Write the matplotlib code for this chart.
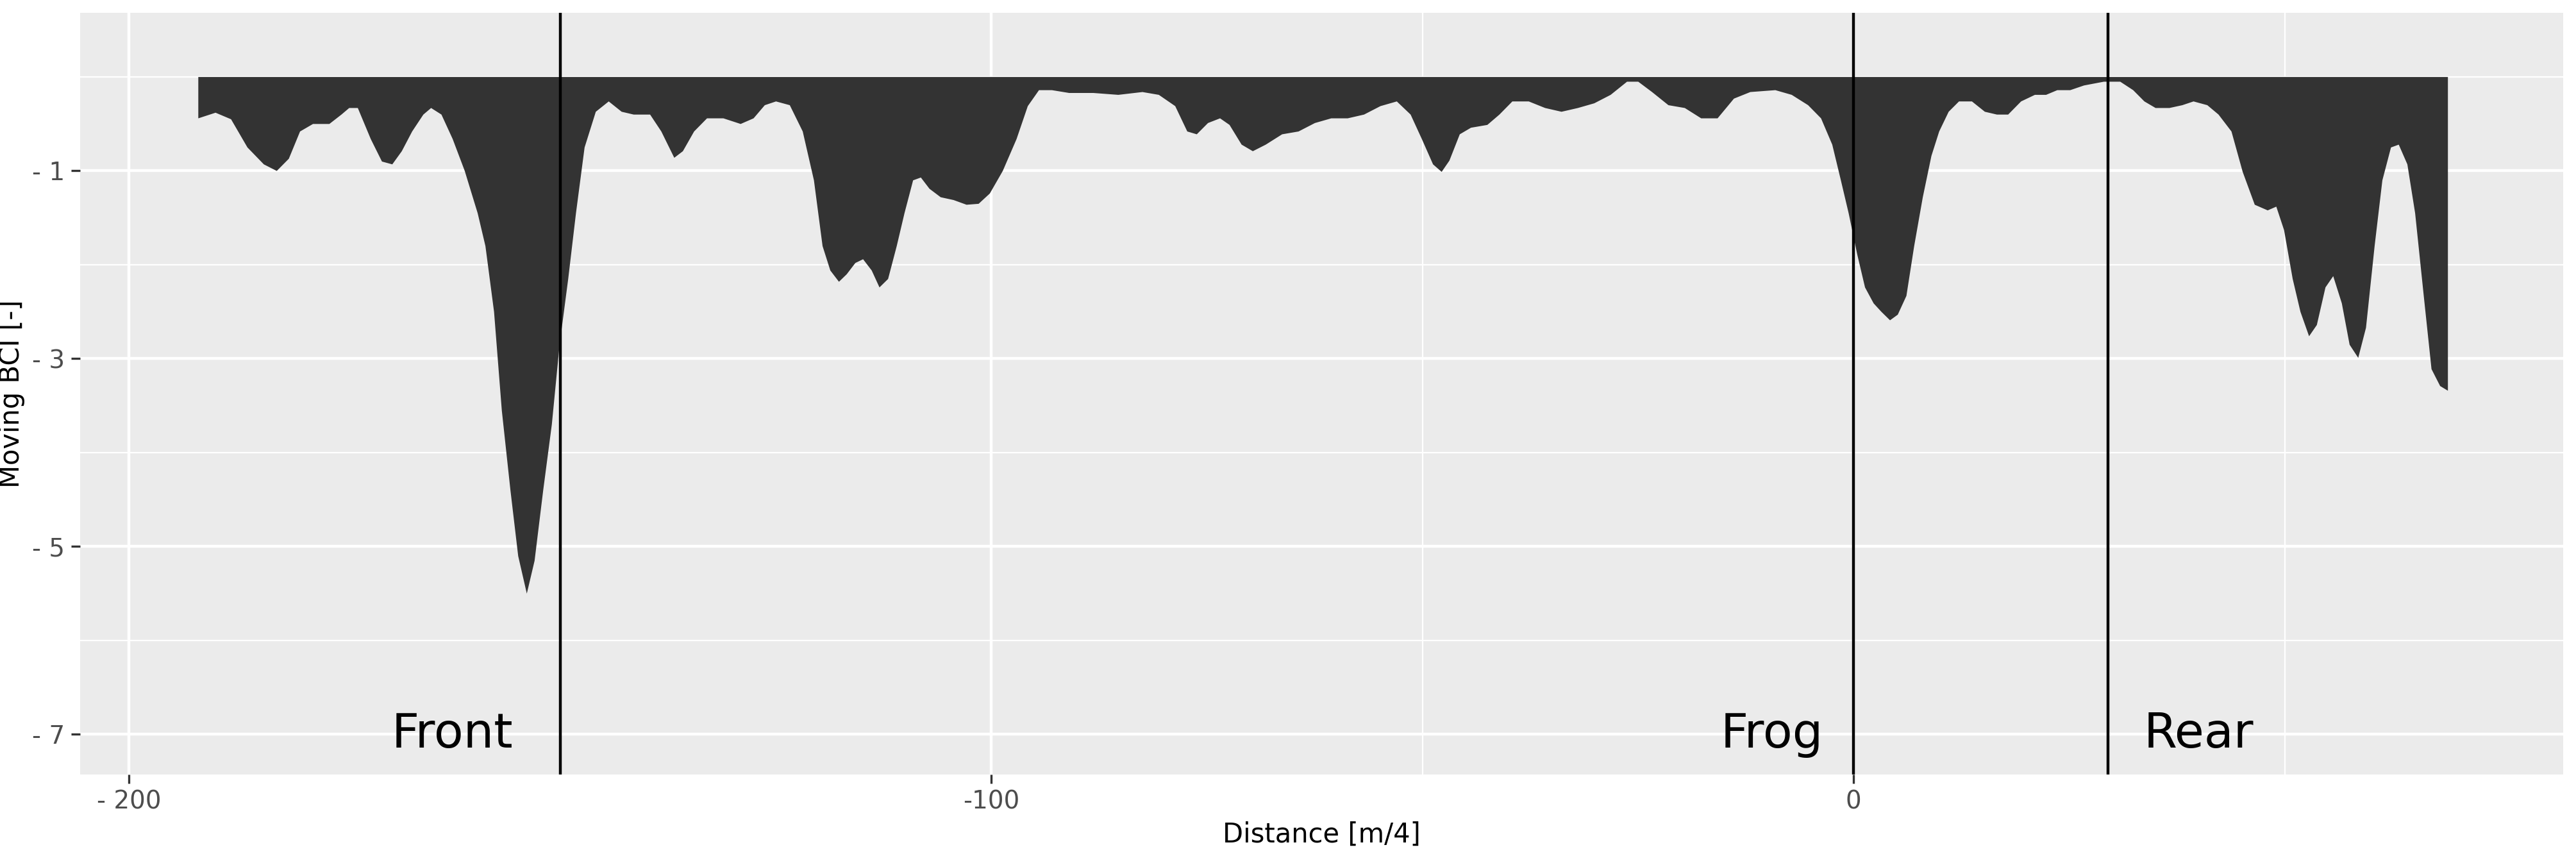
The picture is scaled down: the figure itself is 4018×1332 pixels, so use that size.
import matplotlib
matplotlib.use("Agg")
import matplotlib.pyplot as plt

dist = [-192,-190,-188.2,-186.3,-184.4,-182.9,-181.5,-180.2,-178.7,-176.8,-175.4,-174.5,-173.5,-172,-170.7,-169.5,-168.4,-167.2,-165.9,-165,-163.8,-162.5,-161.1,-159.6,-158.7,-157.7,-156.8,-155.8,-154.9,-153.9,-153,-152,-151,-150.1,-149.1,-148.2,-147.2,-145.9,-144.4,-142.9,-141.5,-139.6,-138.3,-136.8,-135.8,-134.5,-133,-131.1,-129.1,-127.6,-126.3,-125,-123.4,-121.9,-120.6,-119.6,-118.7,-117.7,-116.8,-115.8,-114.9,-113.9,-113,-112,-111,-110.1,-109.1,-108.2,-107.2,-105.9,-104.4,-102.9,-101.5,-100.2,-98.7,-97.1,-95.8,-94.5,-93,-91,-88.2,-85.3,-82.5,-80.6,-78.7,-77.3,-76.2,-74.9,-73.5,-72.4,-71,-69.7,-68.2,-66.3,-64.4,-62.5,-60.6,-58.7,-56.8,-54.9,-53,-51.4,-50.1,-48.8,-47.8,-46.9,-45.7,-44.4,-42.5,-41.1,-39.6,-37.7,-35.8,-33.9,-32,-30.1,-28.2,-26.3,-25,-23.4,-21.5,-19.6,-17.7,-15.8,-13.9,-12,-9.1,-7.2,-5.3,-3.8,-2.5,-1.5,-0.6,0.4,1.3,2.3,3.2,4.2,5.1,6.1,7,8,9,9.9,11,12.2,13.7,15.2,16.6,17.9,19.4,21,22.3,23.6,25.1,26.7,29,30.9,32.4,33.7,35,36.6,38.1,39.4,41,42.3,43.8,45.1,46.5,48,49,49.9,50.9,51.8,52.8,53.7,54.7,55.6,56.6,57.5,58.5,59.4,60.4,61.3,62.3,63.2,64.2,65.1,66.1,67,68,68.9]
bci = [-0.44,-0.38,-0.45,-0.75,-0.93,-1.0,-0.87,-0.58,-0.5,-0.5,-0.4,-0.33,-0.33,-0.66,-0.9,-0.93,-0.79,-0.58,-0.4,-0.33,-0.4,-0.66,-1.0,-1.45,-1.8,-2.5,-3.55,-4.4,-5.1,-5.5,-5.15,-4.4,-3.7,-2.85,-2.15,-1.45,-0.75,-0.37,-0.26,-0.37,-0.4,-0.4,-0.58,-0.86,-0.79,-0.58,-0.44,-0.44,-0.5,-0.44,-0.3,-0.26,-0.3,-0.58,-1.1,-1.8,-2.06,-2.18,-2.1,-1.98,-1.94,-2.06,-2.24,-2.15,-1.8,-1.45,-1.1,-1.07,-1.19,-1.28,-1.31,-1.36,-1.35,-1.24,-1.0,-0.66,-0.31,-0.14,-0.14,-0.17,-0.17,-0.19,-0.16,-0.19,-0.31,-0.58,-0.61,-0.49,-0.44,-0.51,-0.72,-0.79,-0.72,-0.61,-0.58,-0.49,-0.44,-0.44,-0.4,-0.31,-0.26,-0.4,-0.66,-0.93,-1.01,-0.89,-0.61,-0.54,-0.51,-0.4,-0.26,-0.26,-0.33,-0.37,-0.33,-0.28,-0.19,-0.05,-0.05,-0.16,-0.3,-0.33,-0.44,-0.44,-0.23,-0.16,-0.14,-0.19,-0.3,-0.44,-0.72,-1.1,-1.45,-1.89,-2.24,-2.41,-2.5,-2.59,-2.53,-2.33,-1.8,-1.28,-0.84,-0.58,-0.37,-0.26,-0.26,-0.37,-0.4,-0.4,-0.26,-0.19,-0.19,-0.14,-0.14,-0.09,-0.05,-0.05,-0.14,-0.26,-0.33,-0.33,-0.3,-0.26,-0.3,-0.4,-0.58,-1.01,-1.36,-1.42,-1.38,-1.63,-2.15,-2.5,-2.76,-2.64,-2.24,-2.12,-2.41,-2.85,-2.99,-2.67,-1.8,-1.1,-0.75,-0.72,-0.93,-1.45,-2.33,-3.11,-3.29,-3.34]

vlines = [-150, 0, 29.5]
labels = ["Front", "Frog", "Rear"]
label_x = [-162.5, -9.5, 40]
xticks = [-200, -100, 0]
xticklabels = ["- 200", "-100", "0"]
yticks = [-1, -3, -5, -7]
yticklabels = ["- 1", "- 3", "- 5", "- 7"]

fig = plt.figure(figsize=(20.09, 6.66), dpi=200)
ax = fig.add_axes([0.031, 0.093, 0.964, 0.892])
ax.set_facecolor("#EBEBEB")
ax.fill_between(dist, 0, bci, color="#333333", linewidth=0, zorder=3)
for v in vlines:
    ax.axvline(v, color="black", lw=1.6, zorder=4)
for t, x in zip(labels, label_x):
    ax.text(x, -7, t, fontsize=27, ha="center", va="center", zorder=5)
ax.set_xlim(-205.7, 82.3)
ax.set_ylim(-7.43, 0.68)
ax.set_xticks(xticks)
ax.set_xticklabels(xticklabels, fontsize=14, color="#4D4D4D")
ax.set_yticks(yticks)
ax.set_yticklabels(yticklabels, fontsize=14, color="#4D4D4D")
ax.set_xticks([-150, -50, 50], minor=True)
ax.set_yticks([0, -2, -4, -6], minor=True)
ax.grid(True, which="major", color="white", lw=1.6, zorder=0)
ax.grid(True, which="minor", color="white", lw=0.8, zorder=0)
ax.tick_params(which="major", length=5, color="#333333", width=1.2)
ax.tick_params(which="minor", length=0)
for s in ax.spines.values():
    s.set_visible(False)
ax.set_axisbelow(True)
ax.set_xlabel("Distance [m/4]", fontsize=15)
ax.set_ylabel("Moving BCI [-]", fontsize=15)
fig.savefig("out.png", dpi=200)
